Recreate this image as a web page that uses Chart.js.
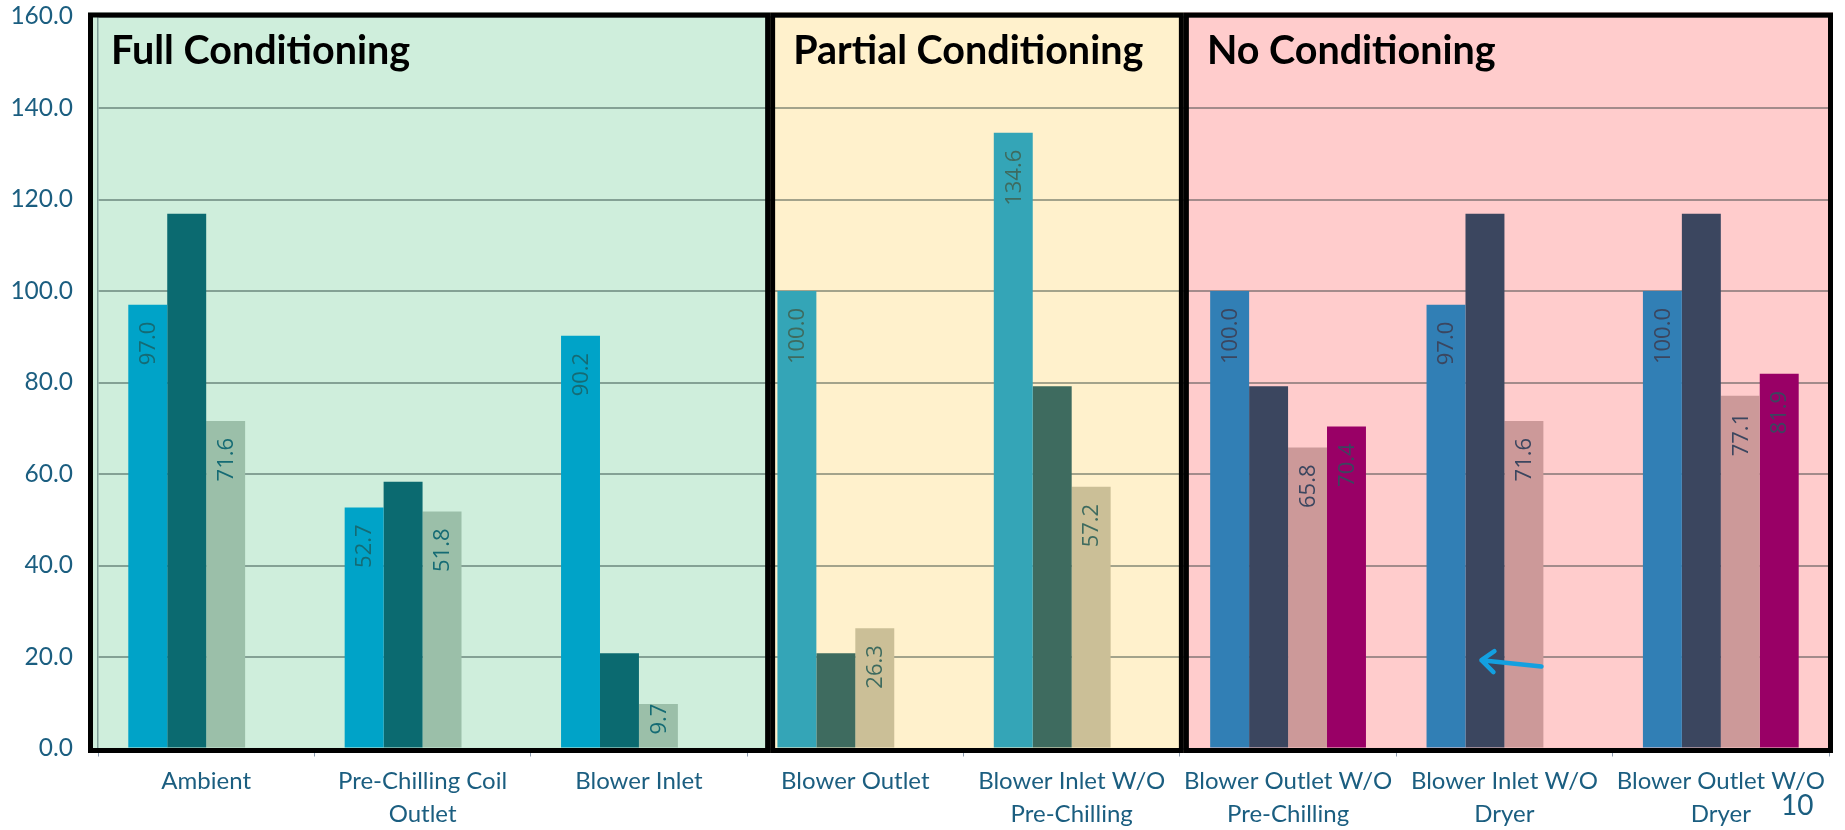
<!DOCTYPE html>
<html>
<head>
<meta charset="utf-8">
<script src="https://cdn.jsdelivr.net/npm/chart.js@4.4.1/dist/chart.umd.min.js"></script>
<style>
  html, body { margin: 0; background: #fff; }
  #wrap { position: relative; width: 1845px; height: 830px; }
</style>
</head>
<body>
<div id="wrap"><canvas id="chart" width="1845" height="830"></canvas></div>
<script>
// ====== Data ======
const categories = [
  "Ambient",
  ["Pre-Chilling Coil", "Outlet"],
  "Blower Inlet",
  "Blower Outlet",
  ["Blower Inlet W/O", "Pre-Chilling"],
  ["Blower Outlet W/O", "Pre-Chilling"],
  ["Blower Inlet W/O", "Dryer"],
  ["Blower Outlet W/O", "Dryer"],
];
const series1 = [97.0, 52.7, 90.2, 100.0, 134.6, 100.0, 97.0, 100.0];
const series2 = [116.9, 58.3, 20.8, 20.8, 79.2, 79.2, 116.9, 116.9];
const series3 = [71.6, 51.8, 9.7, 26.3, 57.2, 65.8, 71.6, 77.1];
const series4 = [null, null, null, null, null, 70.4, null, 81.9];
const yTicks = [0, 20, 40, 60, 80, 100, 120, 140, 160];
const labelledSeries = [0, 2, 3];

// sections: which categories sit in which box
const sectionTitles = ["Full Conditioning", "Partial Conditioning", "No Conditioning"];
const sectionStart = [0, 3, 5];
const sectionEnd = [3, 5, 8];

// ====== Styles ======
const sectionBg = ["#cfeedc", "#fff1cc", "#ffcccc"];
const sectionBars = [
  ["#00a3c8", "#0b6a70", "#9bbfa9", "#990066"],
  ["#34a5b7", "#3e6b5f", "#cbbf97", "#990066"],
  ["#317fb5", "#3b465f", "#cc9999", "#990066"],
];
const sectionLabel = ["#156b74", "#3e6b5f", "#3b465f"];
// box edges relative to category boundaries (px)
const edgeOffsets = [[-10, 23], [23, 4], [4, 4]];
const TEXT = "#1b5e80";

const sectionOf = (i) => sectionStart.findIndex((s, k) => i >= s && i < sectionEnd[k]);
const colorsFor = (k) => categories.map((_, i) => sectionBars[sectionOf(i)][k]);

function boxRects(chart) {
  const xs = chart.scales.x;
  const a = chart.chartArea;
  const catW = (xs.right - xs.left) / categories.length;
  return sectionStart.map((s, k) => ({
    x0: xs.left + s * catW + edgeOffsets[k][0],
    x1: xs.left + sectionEnd[k] * catW + edgeOffsets[k][1],
    y0: a.top - 4,
    y1: a.bottom + 4.5,
  }));
}

const boxes = {
  id: "boxes",
  beforeDraw(chart) {
    const ctx = chart.ctx;
    boxRects(chart).forEach((r, k) => {
      ctx.fillStyle = sectionBg[k];
      ctx.fillRect(r.x0, r.y0, r.x1 - r.x0, r.y1 - r.y0);
    });
  },
  afterDatasetsDraw(chart) {
    const ctx = chart.ctx;
    ctx.save();
    const rects = boxRects(chart);
    // value labels (rotated, inside end)
    ctx.font = "22px 'Open Sans', sans-serif";
    ctx.textAlign = "right";
    ctx.textBaseline = "middle";
    const base = chart.scales.y.getPixelForValue(0);
    labelledSeries.forEach((d) => {
      const meta = chart.getDatasetMeta(d);
      meta.data.forEach((el, i) => {
        const v = chart.data.datasets[d].data[i];
        if (v == null) return;
        const txt = v.toFixed(1);
        const w = ctx.measureText(txt).width;
        const top = Math.min(el.y + 17, base - 14 - w);
        ctx.save();
        ctx.translate(el.x, top);
        ctx.rotate(-Math.PI / 2);
        ctx.fillStyle = sectionLabel[sectionOf(i)];
        ctx.fillText(txt, 0, 1);
        ctx.restore();
      });
    });
    // borders
    ctx.strokeStyle = "#000";
    ctx.lineWidth = 5;
    rects.forEach((r) => {
      ctx.strokeRect(r.x0 + 2.5, r.y0 + 2.5, r.x1 - r.x0 - 5, r.y1 - r.y0 - 5);
    });
    // titles
    ctx.fillStyle = "#000";
    ctx.font = "bold 39.5px Lato, sans-serif";
    ctx.textAlign = "left";
    ctx.textBaseline = "alphabetic";
    rects.forEach((r, k) => ctx.fillText(sectionTitles[k], r.x0 + 23, r.y0 + 51));
    // arrow at "Blower Inlet W/O Dryer"
    const cx = chart.scales.x.getPixelForValue(6);
    const ys = chart.scales.y;
    const tip = [cx - 23, ys.getPixelForValue(19.3)];
    const tail = [cx + 37, ys.getPixelForValue(17.9)];
    ctx.strokeStyle = "#13a0e0";
    ctx.lineWidth = 4.5;
    ctx.lineCap = "round";
    ctx.lineJoin = "round";
    ctx.beginPath();
    ctx.moveTo(tail[0], tail[1]);
    ctx.lineTo(tip[0], tip[1]);
    ctx.moveTo(tip[0] + 13, tip[1] - 9);
    ctx.lineTo(tip[0], tip[1]);
    ctx.lineTo(tip[0] + 12, tip[1] + 12);
    ctx.stroke();
    // page number
    ctx.fillStyle = TEXT;
    ctx.font = "28px Lato, sans-serif";
    ctx.textAlign = "left";
    ctx.fillText("10", 1781, 815);
    ctx.restore();
  },
};

const ds = (label, data, k) => ({
  label,
  data,
  backgroundColor: colorsFor(k),
  borderWidth: 0,
  categoryPercentage: 0.72,
  barPercentage: 1.0,
});

new Chart(document.getElementById("chart"), {
  type: "bar",
  data: {
    labels: categories,
    datasets: [
      ds("Series 1", series1, 0),
      ds("Series 2", series2, 1),
      ds("Series 3", series3, 2),
      ds("Series 4", series4, 3),
    ],
  },
  options: {
    responsive: false,
    animation: false,
    layout: { padding: { top: 16.5, right: 16, bottom: 0, left: 0 } },
    plugins: { legend: { display: false }, tooltip: { enabled: false } },
    scales: {
      x: {
        afterFit: (axis) => { axis.height = 81.5; },
        grid: { drawOnChartArea: false, drawTicks: true, tickLength: 8, color: "#8c9cb0", offset: true },
        border: { display: true, color: "#8c9cb0" },
        ticks: {
          color: TEXT,
          padding: 8,
          maxRotation: 0,
          autoSkip: false,
          font: { family: "Lato, sans-serif", size: 24, lineHeight: "33px" },
        },
      },
      y: {
        min: 0,
        max: 160,
        afterFit: (axis) => {
          axis.width = 98;
          axis.paddingTop = 0;
          axis.paddingBottom = 0;
        },
        afterBuildTicks: (axis) => { axis.ticks = yTicks.map((v) => ({ value: v })); },
        grid: { color: "rgba(0,25,25,0.36)", lineWidth: 2, drawTicks: false },
        border: { display: true, color: "#7f9e98", width: 1.5 },
        ticks: {
          color: TEXT,
          padding: 25,
          font: { family: "Lato, sans-serif", size: 24.5 },
          callback: (v) => Number(v).toFixed(1),
        },
      },
    },
  },
  plugins: [boxes],
});
</script>
</body>
</html>
